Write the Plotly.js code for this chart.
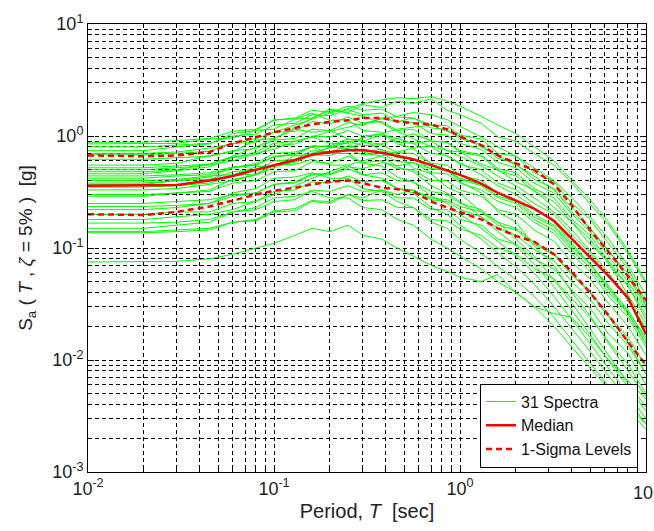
<!DOCTYPE html>
<html><head><meta charset="utf-8">
<script src="https://cdn.plot.ly/plotly-3.0.1.min.js"></script>
<style>html,body{margin:0;padding:0;background:#fff}#chart{width:654px;height:531px}</style>
</head><body><div id="chart"></div>
<script>
const periods = [0.01,0.02,0.03,0.045,0.06,0.08,0.1,0.13,0.16,0.2,0.25,0.3,0.38,0.46,0.56,0.7,0.85,1.0,1.3,1.6,2.0,2.5,3.2,4.0,5.0,6.3,8.0,10];

const s01 = [0.88,0.88,0.91,0.95,1.10,1.15,1.38,1.45,1.70,1.62,1.85,1.70,1.74,1.48,1.45,1.18,1.14,0.95,0.84,0.63,0.57,0.41,0.34,0.21,0.15,0.092,0.06,0.031];
const s02 = [0.85,0.85,0.86,0.94,0.96,1.12,1.15,1.42,1.44,1.70,1.62,1.90,1.80,2.05,1.95,2.15,1.70,1.55,1.30,0.98,0.90,0.70,0.55,0.38,0.25,0.16,0.09,0.048];
const s03 = [0.80,0.80,0.83,0.86,1.00,1.04,1.25,1.30,1.55,1.52,1.72,1.55,1.60,1.35,1.32,1.05,1.02,0.86,0.76,0.58,0.52,0.38,0.31,0.20,0.14,0.085,0.05,0.028];
const s04 = [0.74,0.74,0.80,0.85,1.05,1.12,1.40,1.42,1.60,1.38,1.40,1.12,1.08,0.85,0.78,0.56,0.50,0.39,0.31,0.21,0.17,0.105,0.07,0.04,0.025,0.014,0.008,0.0047];
const s05 = [0.70,0.70,0.72,0.78,0.85,0.95,1.08,1.25,1.40,1.60,1.75,1.95,2.10,2.20,2.15,2.25,2.05,1.85,1.50,1.25,1.05,0.80,0.60,0.40,0.27,0.17,0.095,0.05];
const s06 = [0.68,0.68,0.70,0.73,0.86,0.88,1.08,1.10,1.35,1.28,1.48,1.30,1.35,1.12,1.15,0.90,0.88,0.72,0.66,0.49,0.44,0.32,0.26,0.17,0.12,0.072,0.046,0.025];
const s07 = [0.62,0.62,0.64,0.66,0.74,0.77,0.92,0.95,1.15,1.12,1.32,1.25,1.45,1.34,1.45,1.25,1.24,1.02,0.94,0.70,0.66,0.47,0.39,0.25,0.18,0.108,0.065,0.033];
const s08 = [0.55,0.55,0.57,0.67,0.72,0.92,0.95,1.15,1.08,1.12,0.94,0.92,0.74,0.70,0.52,0.46,0.35,0.31,0.21,0.17,0.12,0.085,0.052,0.032,0.019,0.011,0.0062,0.0038];
const s09 = [0.52,0.52,0.54,0.56,0.65,0.68,0.82,0.85,1.00,0.98,1.12,1.00,1.04,0.88,0.86,0.70,0.67,0.56,0.50,0.38,0.33,0.25,0.20,0.13,0.09,0.055,0.035,0.019];
const s10 = [0.50,0.50,0.52,0.55,0.60,0.70,0.76,0.90,0.98,1.10,1.20,1.30,1.42,1.50,1.62,1.55,1.40,1.22,0.98,0.80,0.66,0.52,0.40,0.28,0.19,0.12,0.07,0.038];
const s11 = [0.48,0.48,0.50,0.56,0.66,0.80,0.95,1.20,1.45,1.75,1.60,1.50,1.30,1.10,0.95,0.80,0.66,0.58,0.45,0.36,0.30,0.23,0.17,0.11,0.072,0.046,0.027,0.016];
const s12 = [0.46,0.46,0.49,0.53,0.64,0.72,0.86,0.90,0.98,0.86,0.86,0.72,0.66,0.53,0.48,0.36,0.31,0.26,0.19,0.14,0.105,0.072,0.045,0.028,0.017,0.0098,0.0058,0.0035];
const s13 = [0.44,0.44,0.45,0.47,0.53,0.55,0.65,0.68,0.80,0.82,0.94,0.90,1.02,0.95,1.05,0.90,0.88,0.74,0.68,0.51,0.47,0.34,0.28,0.18,0.13,0.076,0.046,0.023];
const s14 = [0.42,0.42,0.44,0.45,0.52,0.55,0.66,0.69,0.82,0.80,0.90,0.82,0.84,0.71,0.70,0.57,0.55,0.45,0.40,0.31,0.27,0.20,0.16,0.105,0.073,0.044,0.028,0.015];
const s15 = [0.40,0.40,0.41,0.44,0.45,0.53,0.54,0.67,0.68,0.80,0.77,0.88,0.85,0.95,0.86,0.90,0.74,0.72,0.56,0.50,0.39,0.33,0.23,0.17,0.108,0.074,0.038,0.021];
const s16 = [0.38,0.38,0.40,0.41,0.48,0.50,0.60,0.62,0.74,0.72,0.82,0.73,0.76,0.64,0.63,0.51,0.50,0.41,0.36,0.28,0.25,0.18,0.145,0.095,0.067,0.04,0.026,0.014];
const s17 = [0.37,0.37,0.40,0.43,0.52,0.57,0.70,0.72,0.80,0.70,0.70,0.57,0.54,0.43,0.39,0.29,0.25,0.20,0.15,0.115,0.085,0.06,0.037,0.023,0.014,0.0085,0.005,0.003];
const s18 = [0.35,0.35,0.36,0.38,0.44,0.46,0.55,0.58,0.68,0.67,0.76,0.68,0.70,0.59,0.58,0.47,0.46,0.38,0.33,0.26,0.23,0.17,0.135,0.088,0.062,0.037,0.024,0.013];
const s19 = [0.33,0.33,0.34,0.37,0.40,0.45,0.52,0.60,0.70,0.78,0.88,0.96,1.05,1.15,1.20,1.25,1.10,1.00,0.80,0.66,0.55,0.44,0.33,0.23,0.15,0.095,0.055,0.03];
const s20 = [0.30,0.30,0.31,0.32,0.38,0.40,0.48,0.49,0.59,0.57,0.66,0.58,0.60,0.51,0.50,0.40,0.40,0.33,0.29,0.22,0.20,0.145,0.115,0.075,0.053,0.032,0.02,0.011];
const s21 = [0.29,0.29,0.31,0.33,0.41,0.45,0.55,0.56,0.62,0.55,0.55,0.45,0.42,0.34,0.31,0.23,0.20,0.16,0.12,0.09,0.068,0.048,0.03,0.019,0.012,0.0072,0.0043,0.0027];
const s22 = [0.25,0.25,0.26,0.27,0.30,0.31,0.37,0.39,0.46,0.46,0.53,0.51,0.58,0.54,0.58,0.51,0.49,0.42,0.37,0.29,0.26,0.19,0.155,0.10,0.072,0.043,0.026,0.014];
const s23 = [0.235,0.235,0.24,0.25,0.29,0.31,0.37,0.38,0.45,0.45,0.51,0.45,0.47,0.40,0.39,0.32,0.30,0.25,0.22,0.17,0.15,0.113,0.09,0.059,0.041,0.025,0.016,0.0088];
const s24 = [0.22,0.22,0.23,0.25,0.31,0.34,0.42,0.43,0.47,0.42,0.42,0.34,0.32,0.26,0.23,0.17,0.15,0.12,0.09,0.068,0.052,0.037,0.024,0.015,0.0095,0.0058,0.0036,0.0024];
const s25 = [0.20,0.20,0.21,0.21,0.25,0.26,0.32,0.33,0.39,0.38,0.44,0.39,0.40,0.34,0.33,0.27,0.26,0.22,0.19,0.15,0.13,0.097,0.077,0.05,0.035,0.021,0.0135,0.0075];
const s26 = [0.18,0.18,0.19,0.20,0.22,0.26,0.30,0.36,0.42,0.48,0.55,0.60,0.66,0.72,0.78,0.82,0.74,0.66,0.54,0.44,0.36,0.28,0.21,0.145,0.095,0.06,0.034,0.019];
const s27 = [0.167,0.167,0.17,0.18,0.21,0.22,0.26,0.27,0.33,0.32,0.36,0.32,0.33,0.28,0.28,0.22,0.22,0.18,0.16,0.12,0.108,0.08,0.065,0.042,0.029,0.017,0.0115,0.006];
const s28 = [0.15,0.15,0.16,0.17,0.21,0.23,0.28,0.29,0.32,0.28,0.28,0.23,0.22,0.18,0.16,0.12,0.10,0.085,0.065,0.05,0.04,0.03,0.02,0.013,0.0085,0.0055,0.0038,0.0027];
const s29 = [0.14,0.14,0.145,0.15,0.17,0.175,0.21,0.215,0.26,0.25,0.30,0.28,0.33,0.30,0.33,0.28,0.27,0.235,0.21,0.16,0.145,0.108,0.087,0.057,0.04,0.024,0.0145,0.0075];
const s30 = [0.137,0.137,0.14,0.145,0.17,0.18,0.215,0.225,0.265,0.26,0.30,0.265,0.27,0.23,0.23,0.18,0.175,0.148,0.13,0.10,0.088,0.066,0.053,0.035,0.024,0.0145,0.0092,0.005];
const s31 = [0.075,0.075,0.076,0.08,0.088,0.10,0.11,0.13,0.15,0.14,0.16,0.13,0.12,0.10,0.085,0.07,0.062,0.055,0.05,0.058,0.04,0.03,0.026,0.024,0.016,0.01,0.0065,0.0045];

const spectra = [s01,s02,s03,s04,s05,s06,s07,s08,s09,s10,s11,s12,s13,s14,s15,s16,s17,s18,s19,s20,s21,s22,s23,s24,s25,s26,s27,s28,s29,s30,s31];

const median = [0.36,0.36,0.365,0.40,0.44,0.50,0.55,0.61,0.68,0.72,0.745,0.75,0.71,0.66,0.62,0.55,0.49,0.45,0.375,0.31,0.265,0.225,0.175,0.12,0.083,0.056,0.036,0.017];
const sigmaUpper = [0.67,0.66,0.67,0.72,0.86,0.98,1.08,1.18,1.27,1.34,1.38,1.45,1.45,1.35,1.30,1.27,1.15,0.99,0.83,0.67,0.57,0.50,0.37,0.24,0.145,0.092,0.056,0.034];
const sigmaLower = [0.20,0.197,0.21,0.235,0.265,0.30,0.325,0.345,0.37,0.39,0.40,0.38,0.345,0.335,0.32,0.26,0.23,0.21,0.18,0.15,0.128,0.114,0.088,0.061,0.04,0.025,0.0145,0.009];

const legendNames = ['31 Spectra','Median','1-Sigma Levels'];
const xTickVals = [0.01,0.1,1,10];
const xTickText = ['10<sup>-2</sup>','10<sup>-1</sup>','10<sup>0</sup>','10<sup>1</sup>'];
const yTickVals = [0.001,0.01,0.1,1,10];
const yTickText = ['10<sup>-3</sup>','10<sup>-2</sup>','10<sup>-1</sup>','10<sup>0</sup>','10<sup>1</sup>'];

const GREEN = '#00ff00', RED = '#ff0000';
const FONT = 'Liberation Sans, Arial, sans-serif';
const traces = [];
spectra.forEach((s,i)=>{
  traces.push({x:periods,y:s,type:'scatter',mode:'lines',line:{color:GREEN,width:1},
    name:legendNames[0],legendgroup:'spec',showlegend:i===0,hoverinfo:'skip'});
});
traces.push({x:periods,y:median,type:'scatter',mode:'lines',line:{color:RED,width:2.5},name:legendNames[1]});
traces.push({x:periods,y:sigmaUpper,type:'scatter',mode:'lines',line:{color:RED,width:2.5,dash:'6px,4px'},name:legendNames[2],legendgroup:'sig'});
traces.push({x:periods,y:sigmaLower,type:'scatter',mode:'lines',line:{color:RED,width:2.5,dash:'6px,4px'},name:legendNames[2],legendgroup:'sig',showlegend:false});

const gridStyle = {showgrid:true,gridcolor:'#000',gridwidth:1,griddash:'4px,3px'};
const axisCommon = Object.assign({
  type:'log',showline:true,linecolor:'#000',linewidth:1,mirror:'ticks',
  ticks:'inside',ticklen:6,tickcolor:'#000',zeroline:false,tickmode:'array',
  tickfont:{family:FONT,size:18,color:'#222'}
}, gridStyle);

// last x tick label (at the right edge) is drawn as an annotation so it is not dropped
const lastXTick = xTickVals.length - 1;

const layout = {
  width:654,height:531,
  margin:{l:88,r:8,t:24,b:59},
  paper_bgcolor:'#fff',plot_bgcolor:'#fff',
  showlegend:true,
  font:{family:FONT,color:'#222'},
  xaxis:Object.assign({},axisCommon,{
    range:[-2,1],tickvals:xTickVals,ticktext:xTickText,
    minor:Object.assign({dtick:'D1',ticks:'inside',ticklen:3,tickcolor:'#000'},gridStyle),
    title:{text:'Period, <i>T</i>  [sec]',font:{size:20,color:'#222'},standoff:6}
  }),
  yaxis:Object.assign({},axisCommon,{
    range:[-3,1],tickvals:yTickVals,ticktext:yTickText,
    minor:Object.assign({dtick:'D1',ticks:'inside',ticklen:3,tickcolor:'#000'},gridStyle),
    title:{text:'S<sub>a</sub> ( <i>T</i> , <i>ζ</i> = 5% )  [g]',font:{size:19,color:'#222'},standoff:14}
  }),
  annotations:[{
    xref:'x',yref:'paper',x:Math.log10(xTickVals[lastXTick]),y:0,yshift:-6,
    xanchor:'center',yanchor:'top',showarrow:false,
    text:xTickText[lastXTick],font:{family:FONT,size:18,color:'#222'}
  }],
  legend:{x:0.9857,y:0.01,xanchor:'right',yanchor:'bottom',bgcolor:'#fff',bordercolor:'#000',borderwidth:1,
    font:{size:16,color:'#111'},tracegroupgap:0,itemwidth:30}
};
Plotly.newPlot('chart',traces,layout,{staticPlot:true,displayModeBar:false});
</script></body></html>
